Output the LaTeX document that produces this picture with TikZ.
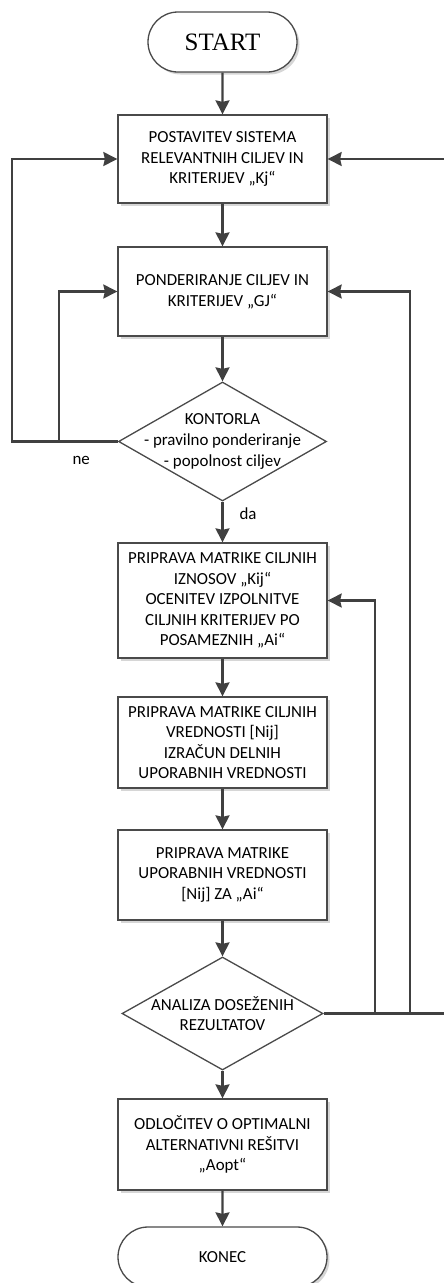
\documentclass[tikz,border=0pt]{standalone}
\usepackage{fontspec}
\setmainfont{Carlito}
\newfontfamily\termfont{Liberation Serif}
\usetikzlibrary{arrows.meta,shapes.geometric,shapes.misc,shadows}

\definecolor{edge}{HTML}{404040}
\definecolor{frame}{HTML}{4A4A4A}

\tikzset{
  base/.style={draw=frame, line width=1.3pt, fill=white, inner sep=0pt,
    font=\fontsize{16.9}{20.6}\selectfont, align=center,
    drop shadow={shadow xshift=2.5pt, shadow yshift=-2.5pt, fill=black!16, opacity=1}},
  stepbox/.style={base, rectangle, minimum width=209pt},
  term/.style={base, rounded rectangle, minimum height=60pt},
  decision/.style={draw=frame, line width=1.3pt, fill=white, diamond, inner sep=0pt},
  dtext/.style={inner sep=0pt, align=center, font=\fontsize{16.9}{20.6}\selectfont},
  lbl/.style={inner sep=0pt, font=\fontsize{16.9}{20}\selectfont},
  arr/.style={draw=edge, line width=2.1pt,
    -{Stealth[length=14pt, width=14pt, inset=1.5pt]}},
  link/.style={draw=edge, line width=2.1pt},
}

\begin{document}
\begin{tikzpicture}[x=1pt, y=-1pt]
  \clip (0,0) rectangle (444,1283);

  % vertical tracks of the feedback loops
  \coordinate (lx1) at (12,0);
  \coordinate (lx2) at (59,0);
  \coordinate (rx1) at (375,0);
  \coordinate (rx2) at (410,0);
  \coordinate (rx3) at (452,0);

  % main chain
  \node[term, minimum width=149pt, font=\termfont\fontsize{25}{28}\selectfont]
    (start) at (222.5,42) {START};
  \node[stepbox, minimum height=88pt] (b1) at (222.5,159)
    {POSTAVITEV SISTEMA\\RELEVANTNIH CILJEV IN\\KRITERIJEV „Kj“};
  \node[stepbox, minimum height=89pt] (b2) at (222.5,291.5)
    {PONDERIRANJE CILJEV IN\\KRITERIJEV „GJ“};
  \node[decision, minimum width=208pt, minimum height=119pt] (d1) at (222.5,441.5) {};
  \node[dtext] (d1t) at (d1.center)
    {KONTORLA\\- pravilno ponderiranje\\- popolnost ciljev};
  \node[stepbox, minimum height=115pt] (b3) at (222.5,600.5)
    {PRIPRAVA MATRIKE CILJNIH\\IZNOSOV „Kij“\\OCENITEV IZPOLNITVE\\CILJNIH KRITERIJEV PO\\POSAMEZNIH „Ai“};
  \node[stepbox, minimum height=91pt] (b4) at (222.5,742.5)
    {PRIPRAVA MATRIKE CILJNIH\\VREDNOSTI [Nij]\\IZRAČUN DELNIH\\UPORABNIH VREDNOSTI};
  \node[stepbox, minimum height=90pt] (b5) at (222.5,875)
    {PRIPRAVA MATRIKE\\UPORABNIH VREDNOSTI\\{[Nij]} ZA „Ai“};
  \node[decision, minimum width=201pt, minimum height=113pt] (d2) at (222.5,1013.5) {};
  \node[dtext] (d2t) at (d2.center) {ANALIZA DOSEŽENIH\\REZULTATOV};
  \node[stepbox, minimum height=91pt] (b6) at (222.5,1144.5)
    {ODLOČITEV O OPTIMALNI\\ALTERNATIVNI REŠITVI\\„Aopt“};
  \node[term, minimum width=209pt] (end) at (222.5,1257) {KONEC};

  % forward connectors
  \draw[arr] (start) -- (b1);
  \draw[arr] (b1) -- (b2);
  \draw[arr] (b2) -- (d1);
  \draw[arr] (d1) -- node[lbl, pos=0.29, anchor=west, xshift=16pt] (da) {da} (b3);
  \draw[arr] (b3) -- (b4);
  \draw[arr] (b4) -- (b5);
  \draw[arr] (b5) -- (d2);
  \draw[arr] (d2) -- (b6);
  \draw[arr] (b6) -- (end);

  % "ne" branch back to the first two steps
  \draw[arr] (d1.west) -- node[lbl, pos=0.346, yshift=-19pt] (ne) {ne}
    (d1.west -| lx1) |- (b1.west);
  \draw[arr] (d1.west -| lx2) |- (b2.west);

  % feedback from the analysis of results
  \draw[link] (d2.east) -- (d2.east -| rx3);
  \draw[arr] (d2.east -| rx3) |- (b1.east);
  \draw[arr] (d2.east -| rx2) |- (b2.east);
  \draw[arr] (d2.east -| rx1) |- (b3.east);
\end{tikzpicture}
\end{document}
